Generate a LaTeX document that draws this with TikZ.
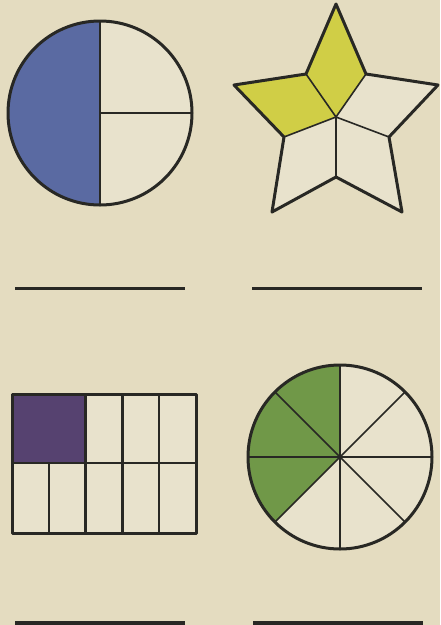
\documentclass[tikz,border=0pt]{standalone}
\begin{document}
\begin{tikzpicture}[x=1pt,y=-1pt,
  outline/.style={draw=inkc,line width=3pt,line join=round},
  divline/.style={draw=inkc,line width=1.6pt},
  blankline/.style={draw=inkc,line width=3pt}]
\definecolor{paper}{RGB}{228,220,192}
\definecolor{inkc}{RGB}{40,40,36}
\definecolor{bluef}{RGB}{90,106,162}
\definecolor{yellowf}{RGB}{208,206,70}
\definecolor{purplef}{RGB}{86,66,112}
\definecolor{greenf}{RGB}{112,152,72}
\definecolor{whitef}{RGB}{232,226,204}
\fill[paper] (0,0) rectangle (440,625);
\useasboundingbox (0,0) rectangle (440,625);
% circle halves
\coordinate (c1) at (100,113);
\fill[whitef] (c1) circle (92);
\fill[bluef] (100,21) arc (270:90:92) -- cycle;
\draw[divline] (100,21) -- (100,205);
\draw[divline] (c1) -- (192,113);
\draw[outline] (c1) circle (92);
% star
\coordinate (sc) at (336,117);
\coordinate (o1) at (336,4);
\coordinate (o2) at (438,85);
\coordinate (o3) at (402,212);
\coordinate (o4) at (272,212);
\coordinate (o5) at (234,85);
\coordinate (i1) at (366,74);
\coordinate (i2) at (389,137);
\coordinate (i3) at (336,177);
\coordinate (i4) at (284,137);
\coordinate (i5) at (306,74);
\fill[whitef] (o1)--(i1)--(o2)--(i2)--(o3)--(i3)--(o4)--(i4)--(o5)--(i5)--cycle;
\fill[yellowf] (sc)--(i5)--(o1)--(i1)--cycle;
\fill[yellowf] (sc)--(i4)--(o5)--(i5)--cycle;
\foreach \p in {i1,i2,i3,i4,i5} \draw[divline] (sc) -- (\p);
\draw[outline] (o1)--(i1)--(o2)--(i2)--(o3)--(i3)--(o4)--(i4)--(o5)--(i5)--cycle;
% answer lines
\draw[blankline] (15,288) -- (185,288);
\draw[blankline] (252,288) -- (422,288);
% rectangle
\fill[whitef] (12,394) rectangle (196,533);
\fill[purplef] (12,394) rectangle (85.6,463);
\foreach \x in {85.6,122.4,159.2} \draw[blankline,line width=2.4pt] (\x,394) -- (\x,533);
\draw[blankline,line width=2.4pt] (48.8,463) -- (48.8,533);
\draw[blankline,line width=2.4pt] (12,463) -- (196,463);
\draw[outline] (12,394) rectangle (196,533);
% circle eighths
\coordinate (c2) at (340,457);
\fill[whitef] (c2) circle (92);
\fill[greenf] (c2) -- (340,365) arc (270:135:92) -- cycle;
\foreach \a in {0,45,...,315} \draw[divline] (c2) -- ++(\a:92);
\draw[outline] (c2) circle (92);
% bottom answer lines (cut off)
\fill[inkc] (15,621) rectangle (185,625);
\fill[inkc] (253,621) rectangle (423,625);
\end{tikzpicture}
\end{document}
